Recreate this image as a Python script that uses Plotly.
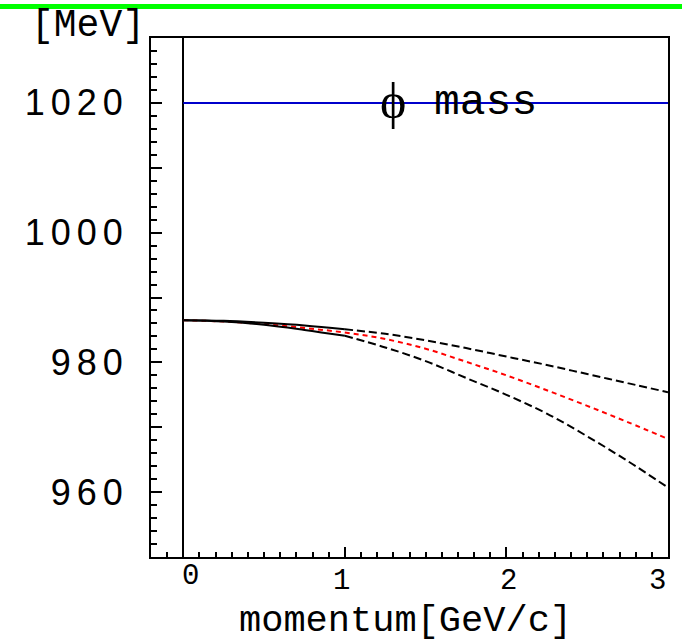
import plotly.graph_objects as go

# momentum grid [GeV/c]
momentum = [0, 0.25, 0.5, 0.75, 1.0, 1.25, 1.5, 1.75, 2.0, 2.25, 2.5, 2.75, 3.0]
# effective masses [MeV]
mass_upper = [986.5, 986.4, 986.1, 985.7, 985.1, 984.4, 983.4, 982.2, 980.9, 979.6, 978.2, 976.8, 975.4]
mass_mid = [986.5, 986.3, 985.9, 985.3, 984.6, 983.6, 982.1, 980.1, 978.0, 975.7, 973.3, 970.8, 968.2]
mass_lower = [986.5, 986.3, 985.8, 985.0, 984.1, 982.3, 980.2, 977.6, 975.0, 972.1, 968.6, 964.8, 960.7]
phi_mass = 1020.0
phi_x = [0, 3]

S = "\u2006"
y_tickvals = [950, 960, 970, 980, 990, 1000, 1010, 1020, 1030]
y_ticklabels = ["", S.join("960"), "", S.join("980"), "", S.join("1000"), "", S.join("1020"), ""]
x_ticks = [0, 1, 2, 3]
x_ticklabels = ["0", "1", "2", "3"]

fig = go.Figure()

solid_n = 5  # points up to p = 1
dashed_start = 4

fig.add_trace(go.Scatter(x=momentum, y=mass_mid, mode="lines",
                         line=dict(color="#ff0000", width=2, dash="5px,4px", shape="spline")))
for ys in (mass_upper, mass_lower):
    fig.add_trace(go.Scatter(x=momentum[:solid_n], y=ys[:solid_n], mode="lines",
                             line=dict(color="black", width=2, shape="spline")))
    fig.add_trace(go.Scatter(x=momentum[dashed_start:], y=ys[dashed_start:], mode="lines",
                             line=dict(color="black", width=2, dash="8px,4px", shape="spline")))

fig.add_trace(go.Scatter(x=phi_x, y=[phi_mass, phi_mass], mode="lines",
                         line=dict(color="rgb(0,0,204)", width=2)))

mono = "Courier New, Courier, Nimbus Mono PS, FreeMono, Liberation Mono"
annotations = []
xshifts = [7, -3, 2, -11]
for v, t, xs in zip(x_ticks, x_ticklabels, xshifts):
    yy = -0.038 if v == 0 else -0.048
    annotations.append(dict(x=v, y=yy, xref="x", yref="paper", text=t, showarrow=False,
                            xanchor="center", yanchor="middle", xshift=xs,
                            font=dict(family=mono, size=29, color="black")))
annotations.append(dict(x=0.5, y=-0.123, xref="paper", yref="paper", text="momentum[GeV/c]",
                        showarrow=False, xanchor="center", yanchor="middle", xshift=-4,
                        font=dict(family=mono, size=37, color="black")))
annotations.append(dict(x=-0.008, y=1.024, xref="paper", yref="paper", text="[MeV]",
                        showarrow=False, xanchor="right", yanchor="middle",
                        font=dict(family=mono, size=38, color="black")))
annotations.append(dict(x=1.3, y=phi_mass, xref="x", yref="y", text="\u03d5",
                        showarrow=False, xanchor="center", yanchor="middle", yshift=2,
                        font=dict(family="Liberation Serif", size=50, color="black")))
annotations.append(dict(x=1.87, y=phi_mass, xref="x", yref="y", text="mass",
                        showarrow=False, xanchor="center", yanchor="middle", yshift=0,
                        font=dict(family=mono, size=43, color="black")))

fig.update_layout(
    width=682, height=643,
    margin=dict(l=151, r=12, t=38, b=86),
    paper_bgcolor="white", plot_bgcolor="white",
    showlegend=False,
    annotations=annotations,
    shapes=[dict(type="line", xref="paper", yref="paper", x0=-0.3, x1=1.03,
                 y0=1.0607, y1=1.0607, line=dict(color="#00ff00", width=5))],
    xaxis=dict(range=[-0.2, 3.0], showgrid=False, zeroline=True, zerolinecolor="black", zerolinewidth=2,
               showline=True, linecolor="black", linewidth=2, mirror=True,
               ticks="inside", tickvals=x_ticks, ticklen=10, tickwidth=2, tickcolor="black",
               showticklabels=False,
               minor=dict(dtick=0.1, tick0=0, ticks="inside", ticklen=5, tickwidth=2, tickcolor="black")),
    yaxis=dict(range=[950, 1030], showgrid=False, zeroline=False,
               showline=True, linecolor="black", linewidth=2, mirror=True,
               ticks="inside", tickvals=y_tickvals, ticktext=y_ticklabels, ticklen=11, tickwidth=2,
               tickcolor="black", ticklabelstandoff=19,
               tickfont=dict(family="Liberation Sans", size=36, color="black"),
               minor=dict(dtick=2, tick0=950, ticks="inside", ticklen=6, tickwidth=2, tickcolor="black")),
)

fig.write_html("out.html")
